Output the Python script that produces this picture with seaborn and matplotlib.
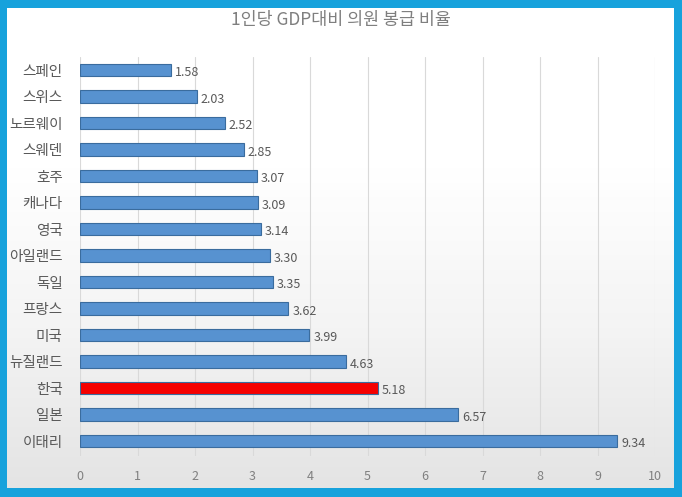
import matplotlib
matplotlib.use("Agg")
import matplotlib.pyplot as plt
import seaborn as sns
import pandas as pd
import numpy as np
from matplotlib.colors import LinearSegmentedColormap

countries = ["스페인", "스위스", "노르웨이", "스웨덴", "호주", "캐나다", "영국", "아일랜드",
             "독일", "프랑스", "미국", "뉴질랜드", "한국", "일본", "이태리"]
values = [1.58, 2.03, 2.52, 2.85, 3.07, 3.09, 3.14, 3.30, 3.35, 3.62, 3.99, 4.63, 5.18, 6.57, 9.34]
highlight = "한국"
title = "1인당 GDP대비 의원 봉급 비율"
xticks = [0, 1, 2, 3, 4, 5, 6, 7, 8, 9, 10]

sns.set_theme(style="white")
plt.rcParams['font.family'] = ['Noto Sans CJK KR', 'DejaVu Sans']

df = pd.DataFrame({"country": countries, "value": values})
df["group"] = ["hl" if c == highlight else "base" for c in countries]
palette = {"base": "#5792D0", "hl": "#F50000"}

fig = plt.figure(figsize=(6.82, 4.97), dpi=100)
fig.patch.set_facecolor("#17A2DC")
# inner panel (white fading to light grey) as background axes
bg = fig.add_axes([7 / 682, 9 / 497, 667 / 682, 480 / 497], zorder=-5)
cmap = LinearSegmentedColormap.from_list("panel", ["#E4E4E4", "#F4F4F4", "#FFFFFF", "#FFFFFF"])
grad = np.linspace(0, 1, 256).reshape(-1, 1)
bg.imshow(grad, aspect="auto", cmap=cmap, origin="lower", extent=[0, 1, 0, 1])
bg.set_xlim(0, 1)
bg.set_ylim(0, 1)
bg.set_xticks([])
bg.set_yticks([])
for s in bg.spines.values():
    s.set_visible(False)

ax = fig.add_axes([80 / 682, 1 - 455.6 / 497, 575 / 682, 398.8 / 497], zorder=1)
ax.set_facecolor("none")
sns.barplot(data=df, x="value", y="country", hue="group", palette=palette,
            orient="h", width=0.48, dodge=False, legend=False, ax=ax,
            saturation=1, edgecolor="#3A6C9E", linewidth=0.8, zorder=3)

ax.set_xlim(0, 10)
ax.set_ylim(14.55, -0.5)
ax.set_xticks(xticks)
ax.set_xticklabels([str(t) for t in xticks], fontsize=9, color="#808080")
ax.tick_params(axis="x", length=0, pad=10.5)
ax.tick_params(axis="y", length=0, pad=12.5, labelsize=10.5, labelcolor="#595959")
ax.set_xlabel("")
ax.set_ylabel("")
ax.xaxis.grid(True, color="#D9D9D9", linewidth=0.8, zorder=0)
ax.yaxis.grid(False)
ax.set_axisbelow(True)
for s in ax.spines.values():
    s.set_visible(False)

for i, v in enumerate(values):
    ax.text(v + 0.07, i + 0.1, f"{v:.2f}", va="center", ha="left",
            fontsize=9, color="#595959", zorder=4)

fig.text(0.5, 1 - 20 / 497, title, ha="center", va="center",
         fontsize=12.5, color="#7F7F7F")

fig.savefig("out.png", dpi=100, facecolor=fig.get_facecolor())
